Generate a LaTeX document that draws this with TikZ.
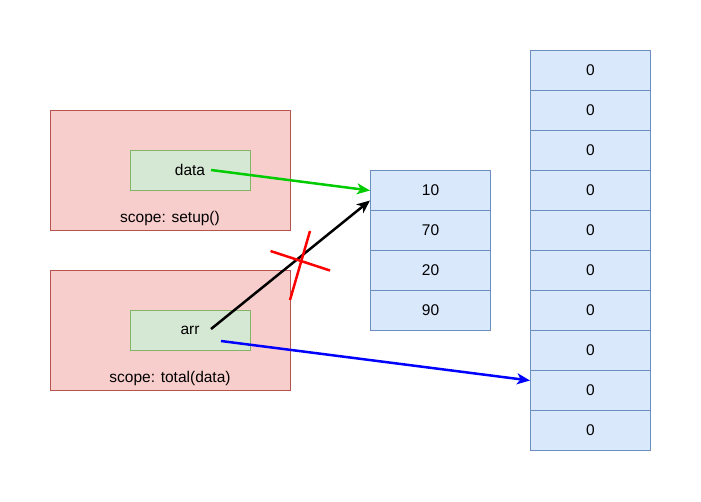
\documentclass[tikz,border=0pt]{standalone}
\usepackage{fontspec}
\setmainfont{Liberation Sans}
\usetikzlibrary{arrows.meta}
\definecolor{redfill}{HTML}{F8CECC}
\definecolor{redline}{HTML}{B85450}
\definecolor{greenfill}{HTML}{D5E8D4}
\definecolor{greenline}{HTML}{82B366}
\definecolor{bluefill}{HTML}{DAE8FC}
\definecolor{blueline}{HTML}{6C8EBF}
\definecolor{arrgreen}{HTML}{00CC00}
\definecolor{arrblue}{HTML}{0000FF}
\definecolor{xred}{HTML}{FF0000}
\tikzset{
  scopebox/.style={draw=redline, fill=redfill, line width=1pt, minimum width=240pt, minimum height=120pt, inner sep=0pt, anchor=north west},
  varbox/.style={draw=greenline, fill=greenfill, line width=1pt, minimum width=120pt, minimum height=40pt, inner sep=0pt, anchor=north west},
  cell/.style={draw=blueline, fill=bluefill, line width=1pt, minimum width=120pt, minimum height=40pt, inner sep=0pt, anchor=north west, font=\fontsize{15.5}{18}\selectfont},
  lbl/.style={font=\fontsize{15.5}{18}\selectfont, inner sep=0pt},
  ptr/.style={line width=2.5pt, -{Stealth[length=13pt, width=11pt, inset=3.5pt]}},
  cross/.style={draw=xred, line width=2.5pt}
}
\begin{document}
\begin{tikzpicture}[x=1pt, y=-1pt]
\useasboundingbox (0,0) rectangle (701,501);
% scopes
\node[scopebox] (s1) at (50,110) {};
\node[lbl] (s1l) at (170,218) {scope: setup()};
\node[varbox] (v1) at (130,150) {};
\node[lbl] (v1l) at (190,170) {data};
\node[scopebox] (s2) at (50,270) {};
\node[lbl] (s2l) at (170,378) {scope: total(data)};
\node[varbox] (v2) at (130,310) {};
\node[lbl] (v2l) at (190,330) {arr};
% array 1
\node[cell] (a1) at (370,170) {10};
\node[cell] (a2) at (370,210) {70};
\node[cell] (a3) at (370,250) {20};
\node[cell] (a4) at (370,290) {90};
% array 2
\foreach \i in {1,...,10} {
  \node[cell] (b\i) at (530,{10+40*\i}) {0};
}
% pointer starts
\coordinate (dstart) at (211,170);
\coordinate (astart) at (211,329);
\coordinate (bstart) at (221,341);
% arrows
\draw[ptr, draw=arrgreen, fill=arrgreen] (dstart) -- (a1.west);
\draw[ptr, draw=black, fill=black] (astart) -- ([yshift=-10pt]a1.west);
\draw[ptr, draw=arrblue, fill=arrblue] (bstart) -- ([yshift=10pt]b9.west);
% red cross
\coordinate (x1a) at (290,300);
\coordinate (x1b) at (310,231);
\coordinate (x2a) at (270.5,251);
\coordinate (x2b) at (330,270.5);
\draw[cross] (x1a) -- (x1b);
\draw[cross] (x2a) -- (x2b);
\end{tikzpicture}
\end{document}
